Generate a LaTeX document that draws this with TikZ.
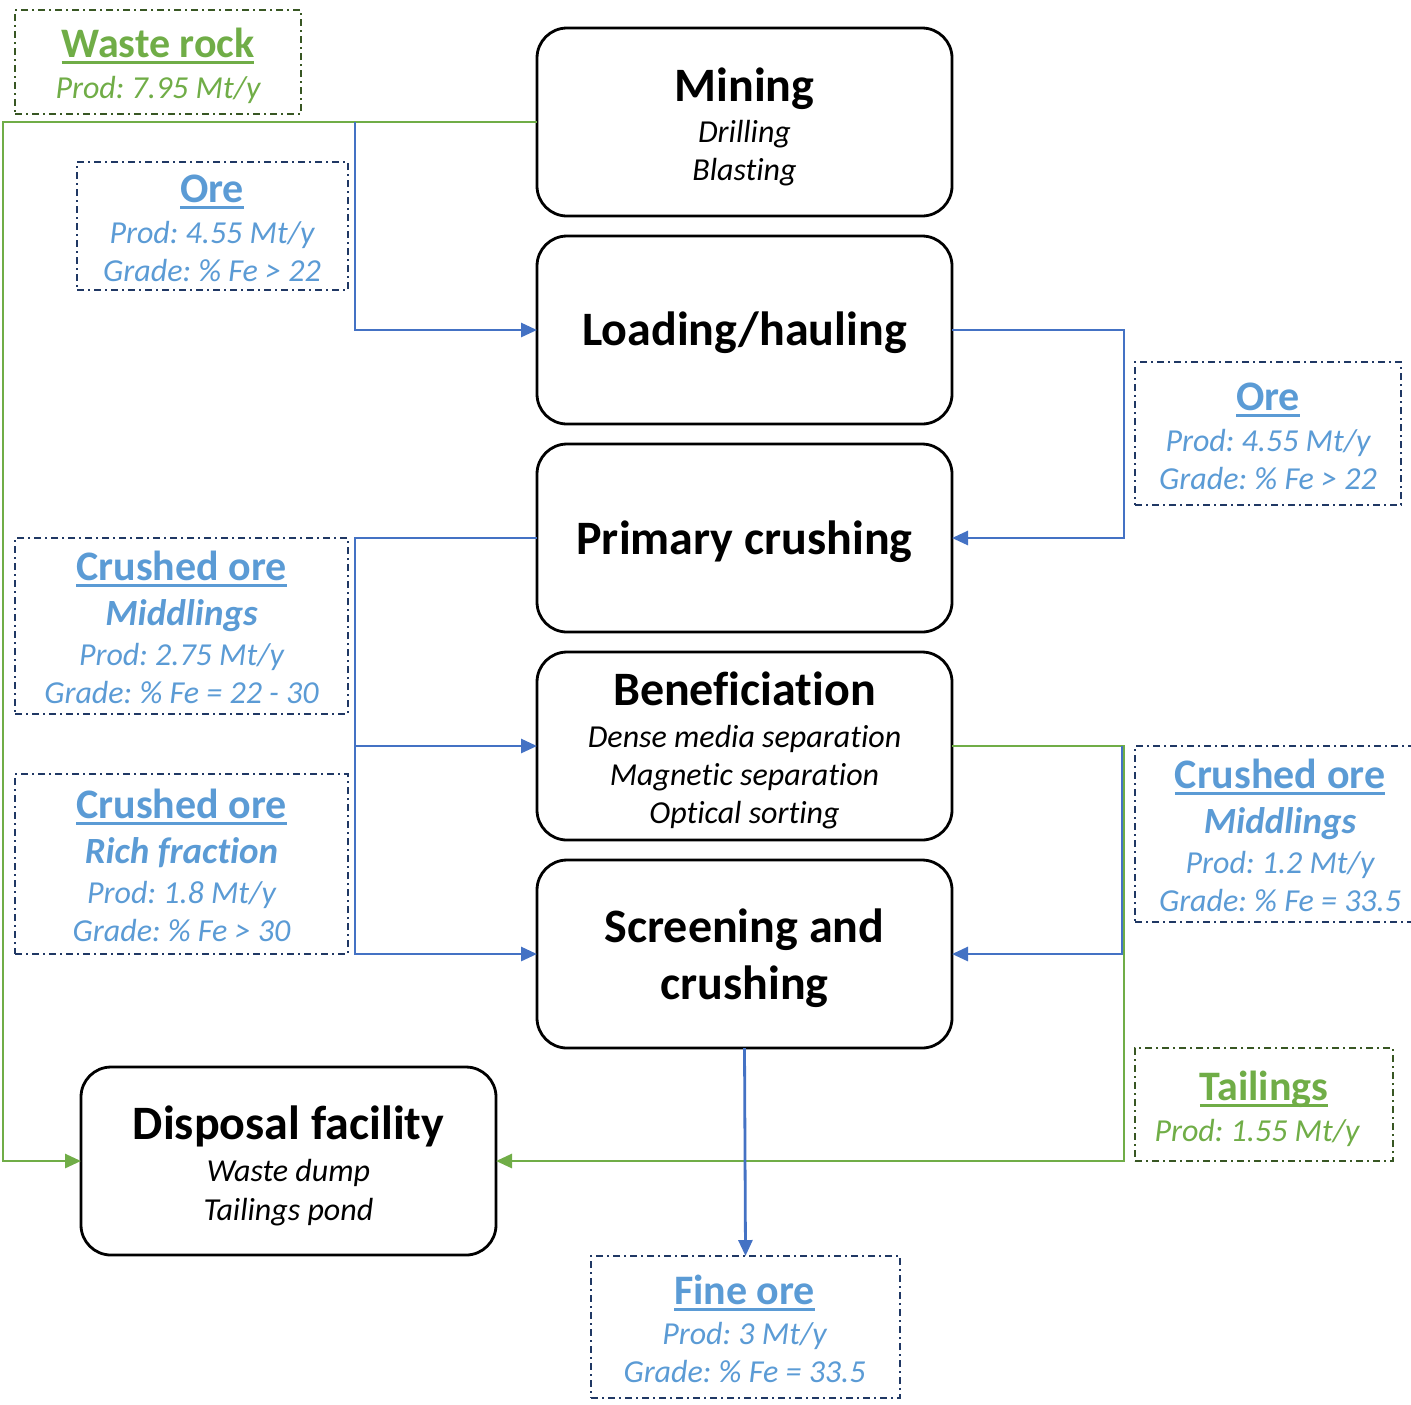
\documentclass[tikz,border=0pt]{standalone}
\usepackage{fontspec}
\setmainfont{Carlito}[Ligatures=NoCommon]
\frenchspacing
\newcommand{\myul}[1]{\setbox0\hbox{#1}\rlap{\rule[-3.5pt]{\wd0}{1.3pt}}\box0}
\usetikzlibrary{arrows.meta}
\definecolor{cblue}{HTML}{4472C4}
\definecolor{cgreen}{HTML}{70AD47}
\definecolor{tblue}{HTML}{5B9BD5}
\definecolor{navy}{HTML}{203864}
\definecolor{dgreen}{HTML}{385723}
\tikzset{
 proc/.style={draw=black, line width=1.4pt, rounded corners=15pt, minimum width=207.5pt, minimum height=94pt, inner sep=0pt, outer sep=0pt},
 info/.style={draw=navy, line width=1.2pt, dash pattern=on 3.5pt off 2pt on 1pt off 2pt, inner sep=0pt, outer sep=0pt},
 ginfo/.style={info, draw=dgreen},
 ptitle/.style={anchor=base, font=\fontsize{24}{28}\selectfont\bfseries},
 psub/.style={anchor=base, font=\fontsize{16}{19}\selectfont\itshape},
 btitle/.style={anchor=base, text=tblue, font=\fontsize{21}{25}\selectfont\bfseries},
 bsub/.style={anchor=base, text=tblue, font=\fontsize{18.5}{22}\selectfont\bfseries\itshape},
 bline/.style={anchor=base, text=tblue, font=\fontsize{16}{19}\selectfont\itshape},
 gtitle/.style={btitle, text=cgreen},
 gline/.style={bline, text=cgreen},
 bconn/.style={draw=cblue, line width=1.4pt},
 gconn/.style={draw=cgreen, line width=1.4pt},
 tip/.style={-{Triangle[length=8pt,width=7pt]}}
}
\begin{document}
\begin{tikzpicture}[x=0.5pt, y=-0.5pt]
\useasboundingbox (0,0) rectangle (1411,1404);
% process boxes
\node[proc] (mining) at (744.5,122) {};
\node[proc] (loading) at (744.5,330) {};
\node[proc] (primary) at (744.5,538) {};
\node[proc] (benef) at (744.5,746) {};
\node[proc] (screen) at (744.5,954) {};
\node[proc] (disposal) at (288.5,1161) {};
% process texts
\node[ptitle] (miningT) at (744.5,101) {Mining};
\node[psub] (miningA) at (744.5,142) {Drilling};
\node[psub] (miningB) at (744.5,180) {Blasting};
\node[ptitle] (loadingT) at (744.5,345) {Loading/hauling};
\node[ptitle] (primaryT) at (744.5,554) {Primary crushing};
\node[ptitle] (benefT) at (744.5,705) {Beneficiation};
\node[psub] (benefA) at (744.5,747) {Dense media separation};
\node[psub] (benefB) at (744.5,785) {Magnetic separation};
\node[psub] (benefC) at (744.5,823) {Optical sorting};
\node[ptitle] (screenT) at (744.5,942) {Screening and};
\node[ptitle] (screenU) at (744.5,999) {crushing};
\node[ptitle] (disposalT) at (288.5,1139) {Disposal facility};
\node[psub] (disposalA) at (288.5,1181) {Waste dump};
\node[psub] (disposalB) at (288.5,1220) {Tailings pond};
% info boxes
\node[ginfo, minimum width=143pt, minimum height=52pt] (waste) at (158,62) {};
\node[gtitle] (wasteT) at (158,57) {\myul{Waste rock}};
\node[gline] (wasteA) at (158,98) {Prod: 7.95 Mt/y};
\node[info, minimum width=135.5pt, minimum height=64pt] (oreL) at (212.5,226) {};
\node[btitle] (oreLT) at (212,202) {\myul{Ore}};
\node[bline] (oreLA) at (212,243) {Prod: 4.55 Mt/y};
\node[bline] (oreLB) at (212,281) {Grade: \% Fe > 22};
\node[info, minimum width=133pt, minimum height=71.5pt] (oreR) at (1268,433.5) {};
\node[btitle] (oreRT) at (1268,410) {\myul{Ore}};
\node[bline] (oreRA) at (1268,451) {Prod: 4.55 Mt/y};
\node[bline] (oreRB) at (1268,489) {Grade: \% Fe > 22};
\node[info, minimum width=166.5pt, minimum height=88pt] (midL) at (181.5,626) {};
\node[btitle] (midLT) at (181.5,580) {\myul{Crushed ore}};
\node[bsub] (midLS) at (181.5,625) {Middlings};
\node[bline] (midLA) at (181.5,665) {Prod: 2.75 Mt/y};
\node[bline] (midLB) at (181.5,703) {Grade: \% Fe = 22 - 30};
\node[info, minimum width=166.5pt, minimum height=90pt] (rich) at (181.5,864) {};
\node[btitle] (richT) at (181.5,818) {\myul{Crushed ore}};
\node[bsub] (richS) at (181.5,863) {Rich fraction};
\node[bline] (richA) at (181.5,903) {Prod: 1.8 Mt/y};
\node[bline] (richB) at (181.5,941) {Grade: \% Fe > 30};
\node[info, minimum width=145pt, minimum height=88pt] (midR) at (1280,834) {};
\node[btitle] (midRT) at (1280,788) {\myul{Crushed ore}};
\node[bsub] (midRS) at (1280,833) {Middlings};
\node[bline] (midRA) at (1280,873) {Prod: 1.2 Mt/y};
\node[bline] (midRB) at (1280,911) {Grade: \% Fe = 33.5};
\node[ginfo, minimum width=129pt, minimum height=56.5pt] (tail) at (1264,1104.5) {};
\node[gtitle] (tailT) at (1264,1100) {\myul{Tailings}};
\node[gline] (tailA) at (1257,1141) {Prod: 1.55 Mt/y};
\node[info, minimum width=154.5pt, minimum height=71pt] (fine) at (745.5,1327) {};
\node[btitle] (fineT) at (744.5,1304) {\myul{Fine ore}};
\node[bline] (fineA) at (744.5,1344) {Prod: 3 Mt/y};
\node[bline] (fineB) at (744.5,1382) {Grade: \% Fe = 33.5};
% connectors
\coordinate (gl) at (3,1161);
\coordinate (mj) at (355,122);
\coordinate (lx) at (355,538);
\coordinate (rj) at (1124,746);
\coordinate (rb) at (1122,746);
\draw[gconn, tip] (mining.west) -| (gl) -- (disposal.west);
\draw[bconn, tip] (mj) |- (loading.west);
\draw[bconn, tip] (loading.east) -- ++(172,0) |- (primary.east);
\draw[bconn, tip] (primary.west) -- (lx) |- (benef.west);
\draw[bconn, tip] (lx) |- (screen.west);
\draw[gconn, tip] (benef.east) -- (rj) |- (disposal.east);
\draw[bconn, tip] (rb) |- (screen.east);
\draw[bconn, tip] (screen.south) -- (fine.north);
\end{tikzpicture}
\end{document}
